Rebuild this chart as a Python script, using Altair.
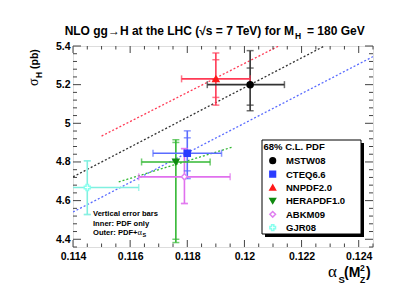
import altair as alt
import pandas as pd

# ---------------- data ----------------
names = ["MSTW08", "CTEQ6.6", "NNPDF2.0", "HERAPDF1.0", "ABKM09", "GJR08"]
alpha_c = [0.1202, 0.1180, 0.1190, 0.1176, 0.1179, 0.1145]
sigma_c = [5.200, 4.845, 5.230, 4.800, 4.723, 4.668]
alpha_lo = [0.1187, 0.1168, 0.1178, 0.1164, 0.1163, 0.1127]
alpha_hi = [0.1214, 0.1192, 0.1202, 0.1188, 0.1195, 0.1163]
inner_lo = [5.094, 4.754, 5.134, 4.400, 4.585, 4.528]
inner_hi = [5.286, 4.925, 5.329, 4.901, 4.869, 4.806]
outer_lo = [5.065, 4.714, 5.094, 4.383, 4.585, 4.528]
outer_hi = [5.376, 4.961, 5.364, 4.915, 4.869, 4.806]

line_names = ["MSTW08", "MSTW08", "CTEQ6.6", "CTEQ6.6",
              "NNPDF2.0", "NNPDF2.0", "HERAPDF1.0", "HERAPDF1.0"]
line_alpha = [0.1140, 0.1228, 0.1140, 0.1245, 0.1150, 0.1212, 0.1156, 0.1196]
line_sigma = [4.723, 5.400, 4.541, 5.345, 4.934, 5.400, 4.697, 4.878]

x_major = [0.114, 0.116, 0.118, 0.12, 0.122, 0.124]
x_minor = [0.1145, 0.115, 0.1155, 0.1165, 0.117, 0.1175, 0.1185, 0.119, 0.1195,
           0.1205, 0.121, 0.1215, 0.1225, 0.123, 0.1235, 0.1245]
y_major = [4.4, 4.6, 4.8, 5.0, 5.2, 5.4]
y_minor = [4.36, 4.44, 4.48, 4.52, 4.56, 4.64, 4.68, 4.72, 4.76, 4.84, 4.88,
           4.92, 4.96, 5.04, 5.08, 5.12, 5.16, 5.24, 5.28, 5.32, 5.36]

title_main = "NLO gg\u2192H at the LHC (\u221As = 7 TeV) for M"
title_sub = "H"
title_end = "= 180 GeV"
legend_title = "68% C.L. PDF"
note_lines = ["Vertical error bars", "Inner: PDF only", "Outer: PDF+"]

# ---------------- styles ----------------
line_colors = ["#333333", "#5a6cff", "#ff3a55", "#33b833", "#e070ee", "#80f0e0"]
mark_stroke = ["#000000", "#2a3cff", "#ff1a1a", "#108a10", "#e080f0", "#88ffee"]
mark_fill = ["#000000", "#2a3cff", "#ff1a1a", "#108a10", "#ffffff", "#ffffff"]
shapes = ["circle", "square", "triangle-up", "triangle-down", "diamond", "cross"]
FONT = "Liberation Sans"
W, H = 300, 201

df = pd.DataFrame({"name": names, "alpha": alpha_c, "sigma": sigma_c,
                   "alo": alpha_lo, "ahi": alpha_hi,
                   "ilo": inner_lo, "ihi": inner_hi,
                   "olo": outer_lo, "ohi": outer_hi})
lines_df = pd.DataFrame({"name": line_names, "alpha": line_alpha, "sigma": line_sigma})

vcaps = pd.concat([
    pd.DataFrame({"name": names, "alpha": alpha_c, "sigma": v})
    for v in (inner_lo, inner_hi, outer_lo, outer_hi)])
hcaps = pd.concat([
    pd.DataFrame({"name": names, "alpha": v, "sigma": sigma_c})
    for v in (alpha_lo, alpha_hi)])

xs = alt.Scale(domain=[0.114, 0.1245], nice=False, zero=False)
ys = alt.Scale(domain=[4.36, 5.4], nice=False, zero=False)
xax = alt.Axis(values=x_major, format="~g", title=None, ticks=False, tickSize=0,
               domain=False, grid=False, labelFont=FONT, labelFontWeight="bold",
               labelFontSize=10.5, labelPadding=4, labelColor="black",
               labelFlush=False, labelOverlap=False)
yax = alt.Axis(values=y_major, format="~g", title=None, ticks=False, tickSize=0,
               domain=False, grid=False, labelFont=FONT, labelFontWeight="bold",
               labelFontSize=10.5, labelPadding=3, labelColor="black",
               labelOverlap=False)

X = lambda f: alt.X(f, type="quantitative", scale=xs, axis=xax)
Y = lambda f: alt.Y(f, type="quantitative", scale=ys, axis=yax)
col = alt.Color("name:N", scale=alt.Scale(domain=names, range=line_colors), legend=None)
shp = alt.Shape("name:N", scale=alt.Scale(domain=names, range=shapes), legend=None)
stk = alt.Stroke("name:N", scale=alt.Scale(domain=names, range=mark_stroke), legend=None)
fil = alt.Fill("name:N", scale=alt.Scale(domain=names, range=mark_fill), legend=None)

lines = alt.Chart(lines_df).mark_line(strokeDash=[2, 2], strokeWidth=1.3, clip=True).encode(
    x=X("alpha"), y=Y("sigma"), color=col, detail="name:N")

vbar = alt.Chart(df).mark_rule(strokeWidth=1.6, clip=True).encode(
    x=X("alpha"), y=Y("olo"), y2="ohi", color=col)
hbar = alt.Chart(df).mark_rule(strokeWidth=1.6, clip=True).encode(
    x=X("alo"), x2="ahi", y=Y("sigma"), color=col)
vcap = alt.Chart(vcaps).mark_tick(orient="horizontal", size=7, thickness=1.5, clip=True).encode(
    x=X("alpha"), y=Y("sigma"), color=col)
hcap = alt.Chart(hcaps).mark_tick(orient="vertical", size=7, thickness=1.5, clip=True).encode(
    x=X("alpha"), y=Y("sigma"), color=col)

points = alt.Chart(df).mark_point(filled=False, strokeWidth=1.5, size=36, opacity=1).encode(
    x=X("alpha"), y=Y("sigma"), shape=shp, stroke=stk, fill=fil)

one = pd.DataFrame({"k": [0]})
shadow = alt.Chart(one).mark_rect(fill="black").encode(
    x=alt.value(192), x2=alt.value(291), y=alt.value(97), y2=alt.value(191))
box = alt.Chart(one).mark_rect(fill="white", stroke="black", strokeWidth=1).encode(
    x=alt.value(189), x2=alt.value(288), y=alt.value(94), y2=alt.value(188))

ticks = []
for vals, L in ((x_major, 7), (x_minor, 3.5)):
    d = pd.DataFrame({"v": vals})
    ticks.append(alt.Chart(d).mark_rule(color="#444", strokeWidth=1).encode(
        x=X("v"), y=alt.value(H), y2=alt.value(H - L)))
    ticks.append(alt.Chart(d).mark_rule(color="#444", strokeWidth=1).encode(
        x=X("v"), y=alt.value(0), y2=alt.value(L)))
for vals, L in ((y_major, 8), (y_minor, 4)):
    d = pd.DataFrame({"v": vals})
    ticks.append(alt.Chart(d).mark_rule(color="#444", strokeWidth=1).encode(
        y=Y("v"), x=alt.value(0), x2=alt.value(L)))
    ticks.append(alt.Chart(d).mark_rule(color="#444", strokeWidth=1).encode(
        y=Y("v"), x=alt.value(W), x2=alt.value(W - L)))


def txt(s, x, y, size, weight="bold", font=FONT, align="left", angle=0):
    return alt.Chart(one).mark_text(text=s, font=font, fontSize=size, fontWeight=weight,
                                    align=align, baseline="alphabetic", angle=angle,
                                    color="black").encode(x=alt.value(x), y=alt.value(y))


# legend entries (drawn by hand inside the box)
legend_layers = [txt(legend_title, 190.5, 104, 9.5)]
for i, n in enumerate(names):
    cy = 114.7 + i * 13.4
    legend_layers.append(
        alt.Chart(df).transform_filter(alt.datum.name == n)
        .mark_point(filled=False, strokeWidth=1.5, size=32, opacity=1)
        .encode(x=alt.value(199.7), y=alt.value(cy), shape=shp, stroke=stk, fill=fil))
    legend_layers.append(txt(n, 213, cy + 3.5, 9.5))

texts = [
    txt(title_main, 221, -11, 12, align="right"),
    txt(title_sub, 222, -7, 8.5),
    txt(title_end, 234, -11, 12),
    # y title
    txt("\u03c3", -35, 40, 14, weight="normal", font="Liberation Serif", angle=270),
    txt("H", -31, 32, 8.5, angle=270),
    txt("(pb)", -35, 23, 10.5, angle=270),
    # x title
    txt("\u03b1", 255, 231, 17, weight="normal", font="Liberation Serif"),
    txt("S", 265.5, 237, 9.5),
    txt("(M", 271, 231, 14),
    txt("2", 287, 225, 8.5),
    txt("Z", 287, 237, 8.5),
    txt(")", 293, 231, 14),
    # note
    txt(note_lines[0], 20, 170, 7.6),
    txt(note_lines[1], 20, 180, 7.6),
    txt(note_lines[2], 20, 188.5, 7.6),
    txt("\u03b1", 64.5, 188.5, 8.5, weight="normal", font="Liberation Serif"),
    txt("S", 69.5, 190.5, 5.5),
]

chart = alt.layer(
    shadow, box, lines, vbar, hbar, vcap, hcap, points, *ticks, *legend_layers, *texts
).properties(
    width=W, height=H,
    autosize=alt.AutoSizeParams(type="none"),
    padding={"left": 65, "top": 38, "right": 18, "bottom": 45},
).configure_view(stroke="#444", strokeWidth=1).configure(background="white")

chart.save("out.html", embed_options={"renderer": "svg", "actions": False})
